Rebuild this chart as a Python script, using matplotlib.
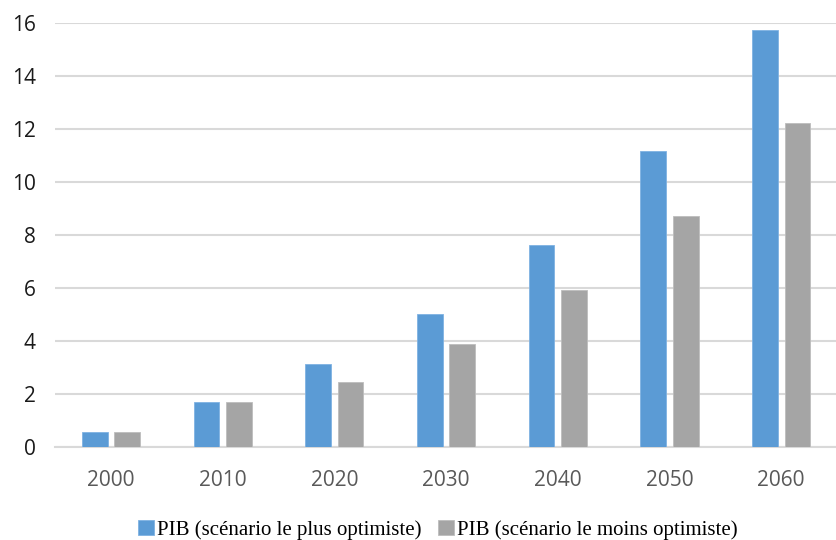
import numpy as np
import matplotlib
matplotlib.use("Agg")
import matplotlib.pyplot as plt

years = ["2000", "2010", "2020", "2030", "2040", "2050", "2060"]
pib_optimiste = [0.56, 1.69, 3.11, 5.0, 7.61, 11.18, 15.74]
pib_pessimiste = [0.56, 1.69, 2.43, 3.89, 5.92, 8.70, 12.24]
labels = ["PIB (scénario le plus optimiste)", "PIB (scénario le moins optimiste)"]

blue = "#5b9bd5"
gray = "#a5a5a5"
grid = "#d9d9d9"

fig = plt.figure(figsize=(8.37, 5.40), dpi=100)
ax = fig.add_axes([0.066, 0.173, 0.934, 0.784])

x = np.arange(len(years))
w = 0.23
gap = 0.06
ax.bar(x - (w + gap) / 2, pib_optimiste, w, color=blue, edgecolor="#7fb2e3", linewidth=0.6, label=labels[0], zorder=3)
ax.bar(x + (w + gap) / 2, pib_pessimiste, w, color=gray, edgecolor="#bdbdbd", linewidth=0.6, label=labels[1], zorder=3)

ax.set_xlim(-0.5, len(years) - 0.5)
ax.set_ylim(0, 16)
ax.set_yticks(range(0, 17, 2))
ax.set_xticks(x)
ax.set_xticklabels(years)
ax.yaxis.grid(True, color=grid, linewidth=1.5, zorder=0)
ax.set_axisbelow(True)
for s in ["top", "left", "right"]:
    ax.spines[s].set_visible(False)
ax.spines["bottom"].set_color(grid)
ax.spines["bottom"].set_linewidth(1.5)
ax.tick_params(axis="both", length=0, labelsize=15)
ax.tick_params(axis="x", pad=17, labelcolor="#595959")
ax.tick_params(axis="y", pad=14, labelcolor="#1a1a1a")
for t in ax.get_xticklabels() + ax.get_yticklabels():
    t.set_fontfamily("Open Sans")

fig.legend(loc="center", bbox_to_anchor=(0.523, 0.019), ncol=2, frameon=False,
           prop={"family": "Liberation Serif", "size": 15},
           handlelength=0.75, handleheight=0.75, handletextpad=0.15, columnspacing=0.8)

fig.savefig("out.png", dpi=100)
